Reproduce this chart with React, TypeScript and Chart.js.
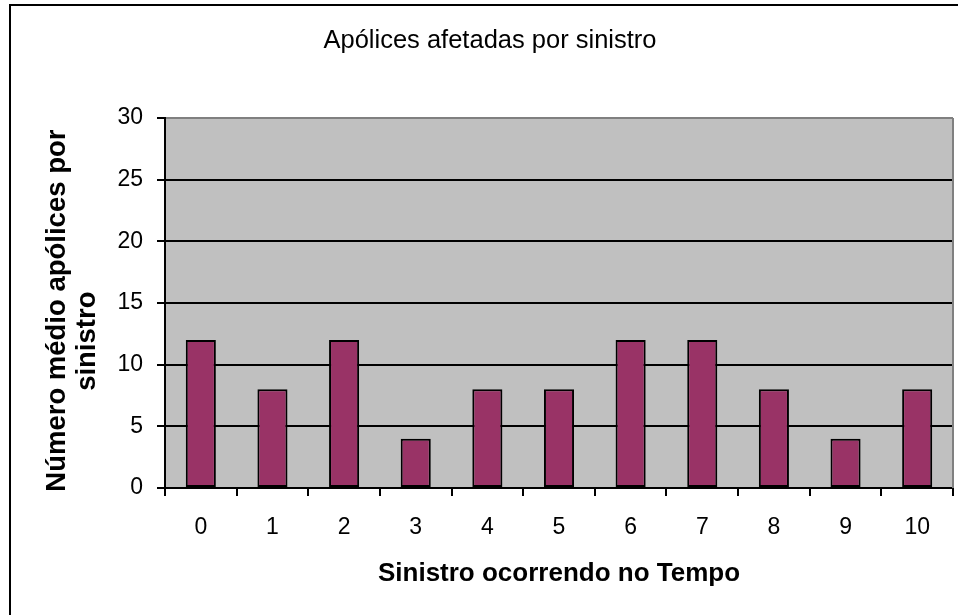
import React, { useEffect, useRef } from "react";
import { Chart, registerables } from "chart.js";

Chart.register(...registerables);

const chartTitle = "Apólices afetadas por sinistro";
const xAxisTitle = "Sinistro ocorrendo no Tempo";
const yAxisTitle = ["Número médio apólices por  ", "sinistro          "];
const categories = ["0", "1", "2", "3", "4", "5", "6", "7", "8", "9", "10"];
const values = [12, 8, 12, 4, 8, 8, 12, 12, 8, 4, 8];
const yMin = 0;
const yMax = 30;
const yStep = 5;

const FONT = "'Liberation Sans', Arial, sans-serif";

const decorPlugin = {
  id: "decor",
  beforeDraw(chart: any) {
    const { ctx, chartArea, width, height } = chart;
    ctx.save();
    ctx.fillStyle = "#ffffff";
    ctx.fillRect(0, 0, width, height);
    // outer frame (cropped at right and bottom)
    ctx.strokeStyle = "#000000";
    ctx.lineWidth = 2;
    ctx.strokeRect(10, 5, width + 20, height + 20);
    // plot area
    ctx.fillStyle = "#C0C0C0";
    ctx.fillRect(chartArea.left, chartArea.top, chartArea.right - chartArea.left, chartArea.bottom - chartArea.top);
    ctx.restore();
  },
  afterDraw(chart: any) {
    const { ctx, chartArea } = chart;
    ctx.save();
    ctx.strokeStyle = "#808080";
    ctx.lineWidth = 2;
    ctx.beginPath();
    ctx.moveTo(chartArea.right, chartArea.top);
    ctx.lineTo(chartArea.right, chartArea.bottom);
    ctx.stroke();
    ctx.restore();
  },
};

export default function App() {
  const canvasRef = useRef<HTMLCanvasElement | null>(null);

  useEffect(() => {
    if (!canvasRef.current) return;
    Chart.defaults.font.family = FONT;
    Chart.defaults.color = "#000000";
    const chart = new Chart(canvasRef.current, {
      type: "bar",
      data: {
        labels: categories,
        datasets: [
          {
            data: values,
            backgroundColor: "#993366",
            borderColor: "#000000",
            borderWidth: 2,
            borderSkipped: false,
            barPercentage: 0.42,
            categoryPercentage: 1,
          },
        ],
      },
      options: {
        responsive: false,
        animation: false,
        devicePixelRatio: 1,
        layout: { padding: { left: 27, right: 5, top: 0, bottom: 0 } },
        plugins: {
          legend: { display: false },
          tooltip: { enabled: false },
          title: {
            display: true,
            text: chartTitle,
            color: "#000000",
            font: { family: FONT, size: 25.5, weight: "normal", lineHeight: 1.2 },
            padding: { top: 26, bottom: 61.4 },
          },
        },
        scales: {
          x: {
            afterFit: (scale: any) => {
              scale.height = 127;
            },
            grid: {
              display: true,
              offset: true,
              drawOnChartArea: false,
              drawTicks: true,
              tickLength: 8,
              color: "#000000",
              lineWidth: 2,
            },
            border: { display: true, color: "#000000", width: 2 },
            ticks: {
              color: "#000000",
              padding: 18,
              font: { family: FONT, size: 23 },
              maxRotation: 0,
            },
            title: {
              display: true,
              text: xAxisTitle,
              color: "#000000",
              font: { family: FONT, size: 26, weight: "bold", lineHeight: 1.2 },
              padding: { top: 0, bottom: 25.4 },
            },
          },
          y: {
            min: yMin,
            max: yMax,
            afterFit: (scale: any) => {
              scale.width = 138;
            },
            grid: {
              display: true,
              drawTicks: true,
              tickLength: 8,
              lineWidth: 2,
              color: (c: any) => (c.tick && c.tick.value === yMax ? "#808080" : "#000000"),
              tickColor: "#000000",
            },
            border: { display: true, color: "#000000", width: 2 },
            ticks: {
              stepSize: yStep,
              color: "#000000",
              padding: 14,
              font: { family: FONT, size: 23 },
            },
            title: {
              display: true,
              text: yAxisTitle,
              color: "#000000",
              font: { family: FONT, size: 27.5, weight: "bold", lineHeight: 1.1 },
              padding: { top: 15, bottom: 0 },
            },
          },
        },
      },
      plugins: [decorPlugin],
    } as any);
    return () => chart.destroy();
  }, []);

  return (
    <div style={{ position: "absolute", left: 0, top: 0, width: 958, height: 615, background: "#fff" }}>
      <canvas ref={canvasRef} width={958} height={615} style={{ display: "block", width: 958, height: 615 }} />
    </div>
  );
}
